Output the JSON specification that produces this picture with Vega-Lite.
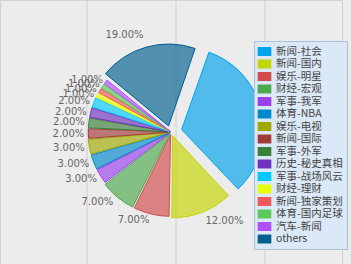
{
  "$schema": "https://vega.github.io/schema/vega-lite/v6.json",
  "autosize": "none",
  "width": 342,
  "height": 264,
  "padding": {"left": 0, "top": 0, "right": 9, "bottom": 0},
  "background": "#ececec",
  "config": {
    "view": {"stroke": "#d2d2d2"},
    "legend": {
      "fillColor": "#dbe8f7",
      "strokeColor": "#a8bfd8",
      "padding": 4,
      "labelFont": "Noto Sans CJK SC",
      "labelFontSize": 10.5,
      "labelColor": "#444444",
      "labelOffset": 5,
      "rowPadding": 0.5,
      "symbolType": "M-1.05,-0.69H1.05V0.69H-1.05Z",
      "symbolSize": 169,
      "symbolOpacity": 1,
      "symbolStrokeWidth": 0,
      "labelLimit": 200
    }
  },
  "layer": [
    {
      "data": {"values": [{"g": 1}, {"g": 2}, {"g": 3}]},
      "mark": {"type": "rule", "color": "#d0d0d0", "strokeWidth": 1},
      "encoding": {
        "x": {"field": "g", "type": "quantitative", "scale": {"domain": [0.02247, 3.865]}, "axis": null}
      }
    },
    {
      "data": {"name": "pie"},
      "layer": [
        {
          "mark": {
            "type": "arc",
            "outerRadius": 82,
            "padAngle": 0.01,
            "fillOpacity": 0.66,
            "strokeWidth": 1,
            "xOffset": {"expr": "34*datum.pct*sin(0.335 + PI*(datum.pct_start+datum.pct_end))"},
            "yOffset": {"expr": "-34*datum.pct*cos(0.335 + PI*(datum.pct_start+datum.pct_end))"}
          },
          "encoding": {
            "theta": {"field": "pct", "type": "quantitative", "stack": true, "scale": {"range": [0.335, 6.618]}},
            "order": {"field": "i", "type": "quantitative"},
            "color": {
              "field": "cat", "type": "nominal", "sort": null,
              "scale": {
                "domain": ["新闻-社会","新闻-国内","娱乐-明星","财经-宏观","军事-我军","体育-NBA","娱乐-电视","新闻-国际","军事-外军","历史-秘史真相","军事-战场风云","财经-理财","新闻-独家策划","体育-国内足球","汽车-新闻","others"],
                "range": ["#00a3ec","#c4d400","#d24a4a","#4ea84e","#9a40ec","#0088cc","#a0a800","#a33a3a","#3a803a","#7030c0","#00c8ff","#e8ff00","#f25a5a","#5ac85a","#b050ff","#005f8e"]
              },
              "legend": {"title": null, "orient": "none", "legendX": 254, "legendY": 41}
            },
            "stroke": {
              "field": "cat", "type": "nominal", "sort": null,
              "scale": {
                "domain": ["新闻-社会","新闻-国内","娱乐-明星","财经-宏观","军事-我军","体育-NBA","娱乐-电视","新闻-国际","军事-外军","历史-秘史真相","军事-战场风云","财经-理财","新闻-独家策划","体育-国内足球","汽车-新闻","others"],
                "range": ["#00a3ec","#c4d400","#d24a4a","#4ea84e","#9a40ec","#0088cc","#a0a800","#a33a3a","#3a803a","#7030c0","#00c8ff","#e8ff00","#f25a5a","#5ac85a","#b050ff","#005f8e"]
              },
              "legend": null
            }
          }
        },
        {
          "mark": {
            "type": "text",
            "radius": {"expr": "85 + 85*datum.pct"},
            "font": "DejaVu Sans",
            "fontSize": 10,
            "color": "#666666",
            "baseline": "middle",
            "align": {"expr": "indexof(['新闻-社会','新闻-国内'], datum.cat) >= 0 ? 'left' : 'right'"}
          },
          "encoding": {
            "theta": {"field": "pct", "type": "quantitative", "stack": true},
            "order": {"field": "i", "type": "quantitative"},
            "text": {"field": "pct", "type": "quantitative", "format": ".2%"}
          }
        }
      ]
    }
  ],
  "datasets": {
    "pie": [
      {"cat": "新闻-社会", "pct": 0.32, "i": 1},
      {"cat": "新闻-国内", "pct": 0.12, "i": 2},
      {"cat": "娱乐-明星", "pct": 0.07, "i": 3},
      {"cat": "财经-宏观", "pct": 0.07, "i": 4},
      {"cat": "军事-我军", "pct": 0.03, "i": 5},
      {"cat": "体育-NBA", "pct": 0.03, "i": 6},
      {"cat": "娱乐-电视", "pct": 0.03, "i": 7},
      {"cat": "新闻-国际", "pct": 0.02, "i": 8},
      {"cat": "军事-外军", "pct": 0.02, "i": 9},
      {"cat": "历史-秘史真相", "pct": 0.02, "i": 10},
      {"cat": "军事-战场风云", "pct": 0.02, "i": 11},
      {"cat": "财经-理财", "pct": 0.01, "i": 12},
      {"cat": "新闻-独家策划", "pct": 0.01, "i": 13},
      {"cat": "体育-国内足球", "pct": 0.01, "i": 14},
      {"cat": "汽车-新闻", "pct": 0.01, "i": 15},
      {"cat": "others", "pct": 0.19, "i": 16}
    ]
  }
}
